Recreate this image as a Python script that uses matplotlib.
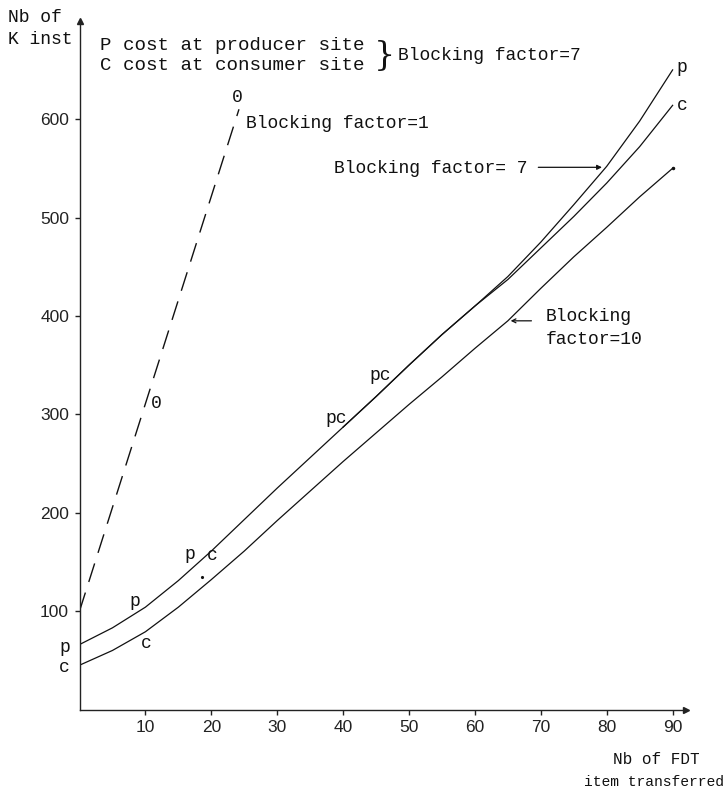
import matplotlib
matplotlib.use('Agg')
import matplotlib.pyplot as plt

# values (x = Nb of FDT item transferred, y = Nb of K inst)
x_p = [0, 5, 10, 15, 20, 25, 30, 35, 40, 45, 50, 55, 60, 65, 70, 75, 80, 85, 90]
y_p = [66, 83, 104, 131, 161, 193, 225, 256, 287, 318, 350, 381, 410, 440, 475, 513, 552, 598, 650]

x_c = [40, 45, 50, 55, 60, 65, 70, 75, 80, 85, 90]
y_c = [287, 318, 350, 381, 410, 437, 469, 501, 535, 572, 614]

x_10 = [0, 5, 10, 15, 20, 25, 30, 35, 40, 45, 50, 55, 60, 65, 70, 75, 80, 85, 90]
y_10 = [45, 60, 79, 104, 132, 161, 192, 222, 252, 281, 310, 338, 367, 395, 428, 460, 490, 521, 550]

x_bf1 = [0, 24.2]
y_bf1 = [100, 610]

xticks = [10, 20, 30, 40, 50, 60, 70, 80, 90]
yticks = [100, 200, 300, 400, 500, 600]

W, H = 727, 792
mono = 'Liberation Mono'


def px(x, y):
    # pixel position in the picture -> figure fraction
    return x / W, 1 - y / H


fig = plt.figure(figsize=(W / 100, H / 100), dpi=100)
ax = fig.add_axes([79.5 / W, 82.5 / H, 606.3 / W, 688.8 / H])
ax.set_xlim(0, 92)
ax.set_ylim(0, 700)

for s in ['top', 'right']:
    ax.spines[s].set_visible(False)
for s in ['left', 'bottom']:
    ax.spines[s].set_linewidth(1.0)
    ax.spines[s].set_color('#222222')

ax.set_xticks(xticks)
ax.set_yticks(yticks)
ax.tick_params(direction='out', length=3.5, width=1.0, colors='#222222',
               labelsize=12.5, pad=4)
for lab in ax.get_xticklabels() + ax.get_yticklabels():
    lab.set_family('Liberation Sans')

# arrow heads on the axes
ax.plot([0], [1], marker='^', color='#222222', markersize=4,
        transform=ax.transAxes, clip_on=False)
ax.plot([1], [0], marker='>', color='#222222', markersize=4,
        transform=ax.transAxes, clip_on=False)

# curves
ax.plot(x_p, y_p, color='#111111', lw=0.9)
ax.plot(x_c, y_c, color='#111111', lw=0.9)
ax.plot(x_10, y_10, color='#111111', lw=0.9)
ax.plot(x_bf1, y_bf1, color='#111111', lw=1.0, dashes=(14, 8))
ax.plot([x_10[-1]], [y_10[-1]], marker='.', color='#111111', markersize=3)
ax.plot([18.6], [135], marker='.', color='#111111', markersize=2.5)

# labels on the curves
kw = dict(family=mono, fontsize=13, color='#111111', va='center')
ax.text(-1.45, 63.5, 'p', ha='right', clip_on=False, **kw)
ax.text(-1.45, 43, 'c', ha='right', clip_on=False, **kw)
ax.text(8.4, 110, 'p', ha='center', **kw)
ax.text(10.2, 67, 'c', ha='center', **kw)
ax.text(16.8, 158, 'p', ha='center', **kw)
ax.text(20.1, 157, 'c', ha='center', **kw)
ax.text(38.9, 296, 'pc', ha='center', **kw)
ax.text(45.6, 339, 'pc', ha='center', **kw)
ax.text(90.6, 652, 'p', ha='left', clip_on=False, **kw)
ax.text(90.6, 614, 'c', ha='left', clip_on=False, **kw)
ax.text(23.9, 622, '0', ha='center', **kw)
ax.text(11.6, 311, '0', ha='center', **kw)

ax.text(25.2, 596, 'Blocking factor=1', ha='left', **kw)
ax.text(38.6, 550, 'Blocking factor= 7', ha='left', **kw)
ax.annotate('', xy=(79.7, 551), xytext=(69.2, 551),
            arrowprops=dict(arrowstyle='-|>', color='#111111', lw=0.9,
                            mutation_scale=7))
ax.text(70.8, 399, 'Blocking', ha='left', **kw)
ax.text(70.8, 376, 'factor=10', ha='left', **kw)
ax.annotate('', xy=(65.0, 395), xytext=(69.0, 395),
            arrowprops=dict(arrowstyle='->', color='#111111', lw=0.9,
                            mutation_scale=7))

# header texts
hk = dict(family=mono, fontsize=13, color='#111111', va='center')
fig.text(*px(8, 18), 'Nb of', ha='left', **hk)
fig.text(*px(8, 39), 'K inst', ha='left', **hk)
fig.text(*px(100, 46), 'P cost at producer site', ha='left', family=mono,
         fontsize=13.8, color='#111111', va='center')
fig.text(*px(100, 66), 'C cost at consumer site', ha='left', family=mono,
         fontsize=13.8, color='#111111', va='center')
fig.text(*px(384, 56), '}', ha='center', va='center', family='DejaVu Serif',
         fontsize=24, color='#111111', fontweight='light')
fig.text(*px(398, 56), 'Blocking factor=7', ha='left', **hk)

fig.text(*px(613, 760), 'Nb of FDT', ha='left', family=mono, fontsize=11.5,
         color='#111111', va='center')
fig.text(*px(584, 782), 'item transferred', ha='left', family=mono,
         fontsize=10.5, color='#111111', va='center')

fig.savefig('out.png', dpi=100, facecolor='white')
